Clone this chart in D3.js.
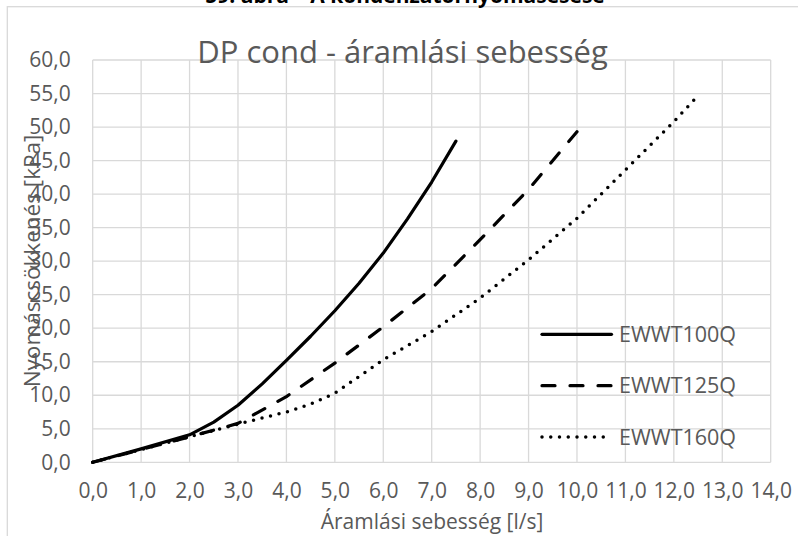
<!DOCTYPE html>
<html>
<head>
<meta charset="utf-8">
<script src="https://cdn.jsdelivr.net/npm/d3@7"></script>
<style>
  body { margin: 0; background: #fff; }
  text { font-family: "Open Sans", sans-serif; fill: #595959; }
</style>
</head>
<body>
<div id="chart"></div>
<script>
(function() {

  // data
  var series = ["EWWT100Q", "EWWT125Q", "EWWT160Q"]
  var flow100 = [0, 1, 2, 2.5, 3, 3.5, 4, 4.5, 5, 5.5, 6, 6.5, 7, 7.5]
  var dp100   = [0, 2.0, 4.1, 6.0, 8.5, 11.7, 15.2, 18.8, 22.6, 26.7, 31.2, 36.3, 41.8, 47.9]
  var flow125 = [0, 1, 2, 3, 4, 5, 6, 7, 8, 9, 10]
  var dp125   = [0, 1.9, 3.8, 5.8, 9.8, 14.8, 20.2, 25.9, 33.2, 40.7, 49.3]
  var flow160 = [0, 1, 2, 3, 4, 4.5, 5, 6, 7, 8, 9, 10, 11, 12, 12.5]
  var dp160   = [0, 1.9, 3.8, 5.7, 7.5, 8.7, 10.3, 15.3, 19.5, 24.5, 30.2, 36.4, 43.6, 50.8, 54.7]
  var xTicks = [0, 1, 2, 3, 4, 5, 6, 7, 8, 9, 10, 11, 12, 13, 14]
  var yTicks = [0, 5, 10, 15, 20, 25, 30, 35, 40, 45, 50, 55, 60]

  var width = 798, height = 536
  var margin = { top: 60, left: 92.7, right: 27.3, bottom: 73.7 }
  var plotW = width - margin.left - margin.right
  var plotH = height - margin.top - margin.bottom

  var svg = d3.select("#chart")
    .append("svg")
    .attr("width", width)
    .attr("height", height)

  // chart-area border (runs off the page to the right and bottom)
  svg.append("rect")
    .attr("x", 7.3)
    .attr("y", 6.7)
    .attr("width", 830)
    .attr("height", 600)
    .attr("fill", "none")
    .attr("stroke", "#d9d9d9")
    .attr("stroke-width", 1.3)

  // caption of the document, cut at the top like in the source
  svg.append("text")
    .text("59. ábra – A kondenzátornyomásesése")
    .attr("x", 405)
    .attr("y", 3)
    .attr("text-anchor", "middle")
    .attr("font-size", "21px")
    .attr("font-weight", "bold")
    .style("fill", "#000")

  var g = svg.append("g")
    .attr("transform", "translate(" + margin.left + "," + margin.top + ")")

  var xScale = d3.scaleLinear().domain([0, 14]).range([0, plotW])
  var yScale = d3.scaleLinear().domain([0, 60]).range([plotH, 0])

  var fmt = function(d) { return d3.format(".1f")(d).replace(".", ",") }

  // grid
  g.selectAll(".grid-x")
    .data(xTicks)
    .enter().append("line")
    .attr("class", "grid-x")
    .attr("x1", function(d) { return xScale(d) })
    .attr("x2", function(d) { return xScale(d) })
    .attr("y1", 0)
    .attr("y2", plotH)
    .attr("stroke", "#d9d9d9")
    .attr("stroke-width", 1.3)

  g.selectAll(".grid-y")
    .data(yTicks)
    .enter().append("line")
    .attr("class", "grid-y")
    .attr("x1", 0)
    .attr("x2", plotW)
    .attr("y1", function(d) { return yScale(d) })
    .attr("y2", function(d) { return yScale(d) })
    .attr("stroke", "#d9d9d9")
    .attr("stroke-width", 1.3)

  // axes (labels only, Excel style)
  var xAxis = g.append("g")
    .attr("transform", "translate(0," + plotH + ")")
    .call(d3.axisBottom(xScale).tickValues(xTicks).tickFormat(fmt).tickSize(0).tickPadding(21))
  var yAxis = g.append("g")
    .call(d3.axisLeft(yScale).tickValues(yTicks).tickFormat(fmt).tickSize(0).tickPadding(22))

  ;[xAxis, yAxis].forEach(function(a) {
    a.select(".domain").remove()
    a.selectAll("text")
      .attr("font-family", null)
      .attr("font-size", null)
      .style("font-size", "21px")
      .style("fill", "#595959")
  })

  // title and axis titles
  svg.append("text")
    .text("DP cond - áramlási sebesség")
    .attr("x", 402.5)
    .attr("y", 63)
    .attr("text-anchor", "middle")
    .attr("font-size", "31px")

  svg.append("text")
    .text("Áramlási sebesség [l/s]")
    .attr("x", 432)
    .attr("y", 529)
    .attr("text-anchor", "middle")
    .attr("font-size", "21px")

  svg.append("text")
    .text("Nyomáscsökkenés [kPa]")
    .attr("transform", "translate(40,261) rotate(-90)")
    .attr("text-anchor", "middle")
    .attr("font-size", "22.5px")

  // lines
  var styles = {
    "EWWT100Q": { dash: null, cap: "round" },
    "EWWT125Q": { dash: "13,15", cap: "round" },
    "EWWT160Q": { dash: "0,8.75", cap: "round" }
  }

  var datasets = [
    { name: series[0], values: d3.zip(flow100, dp100) },
    { name: series[1], values: d3.zip(flow125, dp125) },
    { name: series[2], values: d3.zip(flow160, dp160) }
  ]

  var line = d3.line()
    .x(function(d) { return xScale(d[0]) })
    .y(function(d) { return yScale(d[1]) })

  g.selectAll(".series-line")
    .data(datasets)
    .enter().append("path")
    .attr("class", "series-line")
    .attr("d", function(d) { return line(d.values) })
    .attr("fill", "none")
    .attr("stroke", "#000")
    .attr("stroke-width", function(d) { return d.name === "EWWT160Q" ? 3.5 : 3.2 })
    .attr("stroke-linecap", function(d) { return styles[d.name].cap })
    .attr("stroke-linejoin", "round")
    .attr("stroke-dasharray", function(d) { return styles[d.name].dash })

  // legend
  var legendY = d3.scalePoint().domain(series).range([334.3, 437])

  var legend = svg.selectAll(".legend")
    .data(series)
    .enter().append("g")
    .attr("class", "legend")
    .attr("transform", function(d) { return "translate(0," + legendY(d) + ")" })

  legend.append("line")
    .attr("x1", 542)
    .attr("x2", 611.5)
    .attr("stroke", "#000")
    .attr("stroke-width", function(d) { return d === "EWWT160Q" ? 3.5 : 3.2 })
    .attr("stroke-linecap", function(d) { return styles[d].cap })
    .attr("stroke-dasharray", function(d) { return styles[d].dash })

  legend.append("text")
    .text(function(d) { return d })
    .attr("x", 619)
    .attr("dy", "0.35em")
    .attr("font-size", "21.5px")

})();
</script>
</body>
</html>
